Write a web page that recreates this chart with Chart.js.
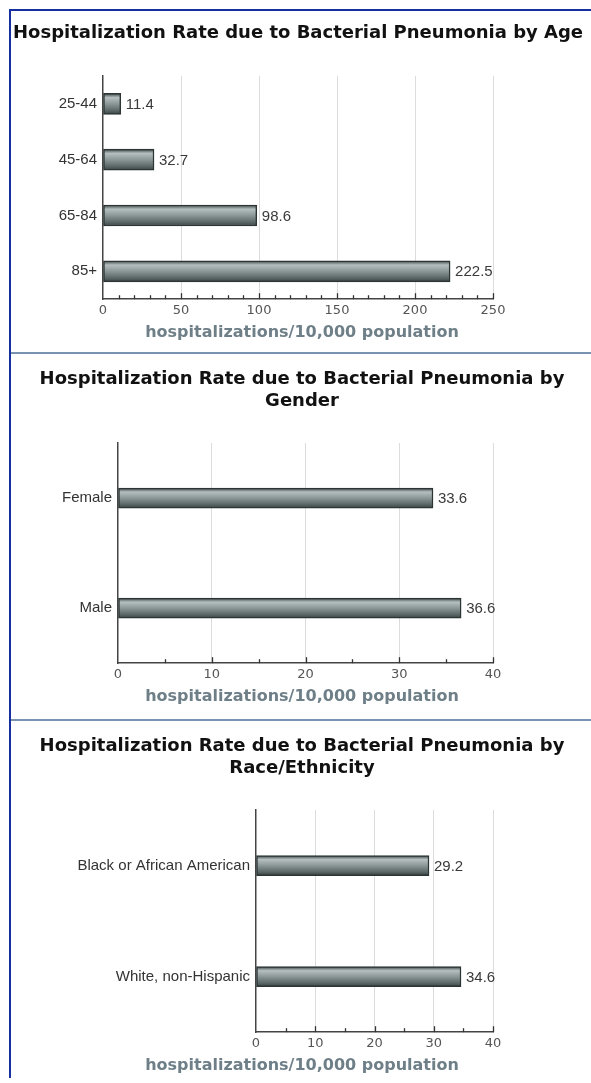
<!DOCTYPE html>
<html lang="en">
<head>
    <meta charset="UTF-8">
    <title>Hospitalization Rate due to Bacterial Pneumonia</title>
    <script src="https://cdn.jsdelivr.net/npm/chart.js"></script>
    <style>
        body {
            margin: 0;
            background: #fff;
        }
        #frame {
            position: absolute;
            left: 9px;
            top: 9px;
            width: 580px;
            border-top: 2px solid #1630a0;
            border-left: 2px solid #1630a0;
        }
        .sec {
            position: relative;
            width: 580px;
        }
        .divider {
            height: 2px;
            background: #7a93b3;
        }
    </style>
</head>
<body>

<div id="frame">
    <div class="sec" style="height:341px"><canvas id="ageChart"></canvas></div>
    <div class="divider"></div>
    <div class="sec" style="height:365px"><canvas id="genderChart"></canvas></div>
    <div class="divider"></div>
    <div class="sec" style="height:357px"><canvas id="raceChart"></canvas></div>
</div>

<script>
    // data
    const ageLabels = ['25-44', '45-64', '65-84', '85+'];
    const ageRates = [11.4, 32.7, 98.6, 222.5];
    const ageTicks = [0, 50, 100, 150, 200, 250];

    const genderLabels = ['Female', 'Male'];
    const genderRates = [33.6, 36.6];
    const genderTicks = [0, 10, 20, 30, 40];

    const raceLabels = ['Black or African American', 'White, non-Hispanic'];
    const raceRates = [29.2, 34.6];
    const raceTicks = [0, 10, 20, 30, 40];

    const axisTitle = 'hospitalizations/10,000 population';

    Chart.defaults.font.family = '"DejaVu Sans", Verdana, sans-serif';

    // value labels and the small upward tick marks on the x axis
    const barDecor = {
        id: 'barDecor',
        afterDatasetsDraw(chart) {
            const ctx = chart.ctx;
            const meta = chart.getDatasetMeta(0);
            const vals = chart.data.datasets[0].data;
            ctx.save();
            ctx.font = '15px "Liberation Sans", Arial, sans-serif';
            ctx.fillStyle = '#3a3a3a';
            ctx.textBaseline = 'middle';
            meta.data.forEach((bar, i) => {
                ctx.fillText(vals[i].toFixed(1), bar.x + 5, bar.y + 1);
            });
            ctx.restore();
        },
        afterDraw(chart, args, opts) {
            const xs = chart.scales.x;
            const ctx = chart.ctx;
            const y0 = chart.chartArea.bottom;
            ctx.save();
            ctx.strokeStyle = '#333';
            ctx.lineWidth = 1.3;
            xs.ticks.forEach(t => {
                if (t.value === 0) return;
                const px = Math.round(xs.getPixelForValue(t.value)) + 0.5;
                const len = t.value % opts.major === 0 ? 6 : 4;
                ctx.beginPath();
                ctx.moveTo(px, y0);
                ctx.lineTo(px, y0 - len);
                ctx.stroke();
            });
            ctx.restore();
        }
    };

    function metalFill(thick) {
        return function (c) {
            const ys = c.chart.scales.y;
            if (c.type !== 'data' || !ys) return '#8a9696';
            const cy = ys.getPixelForValue(c.dataIndex);
            if (!isFinite(cy)) return '#8a9696';
            const g = c.chart.ctx.createLinearGradient(0, cy - thick / 2, 0, cy + thick / 2);
            g.addColorStop(0, '#3c4646');
            g.addColorStop(0.2, '#b5bfbf');
            g.addColorStop(0.5, '#8b9696');
            g.addColorStop(0.8, '#5e6a6a');
            g.addColorStop(1, '#394343');
            return g;
        };
    }

    function makeChart(id, labels, values, tickVals, minor, title, lay) {
        const major = tickVals[1] - tickVals[0];
        return new Chart(document.getElementById(id), {
            type: 'bar',
            data: {
                labels: labels,
                datasets: [{
                    data: values,
                    yAxisID: 'y',
                    backgroundColor: metalFill(lay.thick),
                    borderColor: '#2c3434',
                    borderWidth: 1.5,
                    borderSkipped: false,
                    barThickness: lay.thick
                }]
            },
            options: {
                indexAxis: 'y',
                responsive: true,
                maintainAspectRatio: false,
                animation: false,
                layout: { padding: { left: 2, right: 0, top: 0, bottom: lay.bottom } },
                plugins: {
                    legend: { display: false },
                    tooltip: { enabled: false },
                    title: {
                        display: true,
                        text: title,
                        align: lay.align,
                        color: '#111',
                        font: { size: 18, weight: 'bold', lineHeight: 1.25 },
                        padding: { top: lay.titleTop, bottom: lay.titleBottom }
                    },
                    // axis title sits centred on the whole panel, so use the subtitle box
                    subtitle: {
                        display: true,
                        position: 'bottom',
                        text: axisTitle,
                        color: '#6e7f88',
                        font: { size: 16, weight: 'bold', lineHeight: 1.2 },
                        padding: { top: 0, bottom: 0 }
                    },
                    barDecor: { major: major }
                },
                scales: {
                    x: {
                        min: tickVals[0],
                        max: tickVals[tickVals.length - 1],
                        ticks: {
                            stepSize: minor,
                            autoSkip: false,
                            maxRotation: 0,
                            padding: 4,
                            color: '#555',
                            font: { size: 13 },
                            callback: v => (v % major === 0 ? v : '')
                        },
                        grid: {
                            drawTicks: false,
                            color: c => (c.tick && c.tick.value !== 0 && c.tick.value % major === 0) ? '#dcdcdc' : 'rgba(0,0,0,0)'
                        },
                        border: { color: '#444', width: 1.5 }
                    },
                    y: {
                        grid: { display: false, drawTicks: false },
                        border: { color: '#444', width: 1.5 },
                        ticks: {
                            color: '#333',
                            padding: 6,
                            font: { family: '"Liberation Sans", Arial, sans-serif', size: 15 }
                        },
                        afterFit: s => { s.width = lay.left - 2; }
                    },
                    // empty right-hand strip that keeps the plot narrower than the panel
                    pad: {
                        type: 'linear',
                        position: 'right',
                        ticks: { display: false },
                        grid: { display: false, drawTicks: false },
                        border: { display: false },
                        afterFit: s => { s.width = 98; }
                    }
                }
            },
            plugins: [barDecor]
        });
    }

    makeChart('ageChart', ageLabels, ageRates, ageTicks, 10,
        'Hospitalization Rate due to Bacterial Pneumonia by Age',
        { left: 92, bottom: 10, thick: 21, align: 'start', titleTop: 11, titleBottom: 31.5 });

    makeChart('genderChart', genderLabels, genderRates, genderTicks, 5,
        ['Hospitalization Rate due to Bacterial Pneumonia by', 'Gender'],
        { left: 107, bottom: 13, thick: 20, align: 'center', titleTop: 14, titleBottom: 30 });

    makeChart('raceChart', raceLabels, raceRates, raceTicks, 5,
        ['Hospitalization Rate due to Bacterial Pneumonia by', 'Race/Ethnicity'],
        { left: 245, bottom: 3, thick: 20, align: 'center', titleTop: 14, titleBottom: 30 });
</script>
</body>
</html>
